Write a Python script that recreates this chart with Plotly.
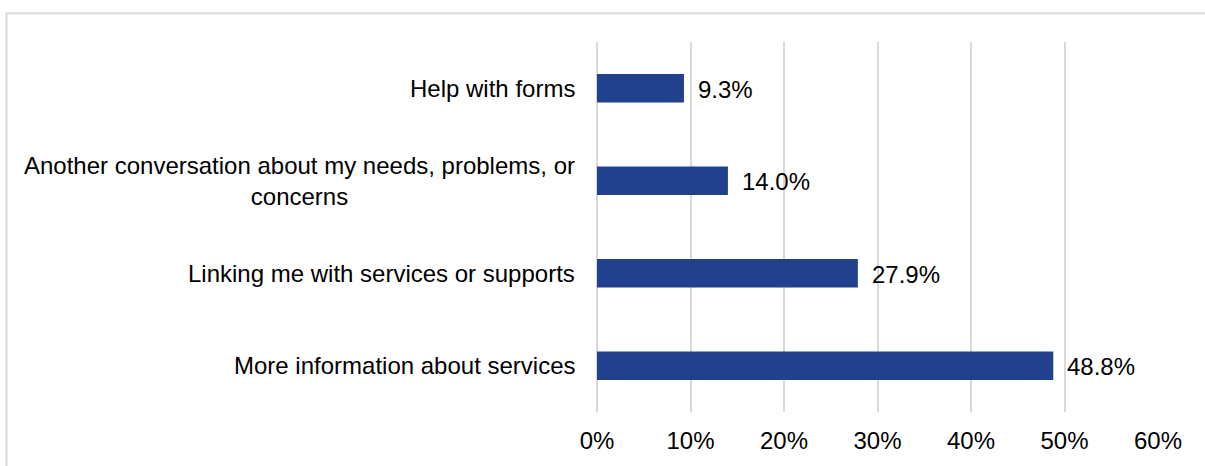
import plotly.graph_objects as go

categories = [
    "Help with forms",
    "Another conversation about my needs, problems, or<br>concerns",
    "Linking me with services or supports",
    "More information about services",
]
values = [9.3, 14.0, 27.9, 48.8]
tick_vals = [0, 10, 20, 30, 40, 50, 60]
tick_text = ["0%", "10%", "20%", "30%", "40%", "50%", "60%"]

BAR = "#22418D"
GRID = "#D9D9D9"
FONT = "Liberation Sans, Arial, sans-serif"

fig = go.Figure()
fig.add_trace(go.Bar(
    x=values, y=categories, orientation="h",
    marker=dict(color=BAR, line=dict(width=0)),
    width=0.31, hoverinfo="skip",
))

annotations = []
for c, v in zip(categories, values):
    annotations.append(dict(
        x=v, y=c, xref="x", yref="y", text=f"{v:.1f}%",
        showarrow=False, xanchor="left", yanchor="middle", xshift=12, yshift=-1,
        font=dict(family=FONT, size=24, color="#000000"),
    ))
    annotations.append(dict(
        x=0, y=c, xref="paper", yref="y", text=c,
        showarrow=False, xanchor="right", yanchor="middle", xshift=-20,
        align="center",
        font=dict(family=FONT, size=24, color="#000000"),
    ))

fig.update_layout(
    width=1205, height=466,
    margin=dict(l=597, r=47, t=42, b=50),
    paper_bgcolor="white", plot_bgcolor="white",
    showlegend=False,
    font=dict(family=FONT, size=24, color="#000000"),
    annotations=annotations,
    xaxis=dict(
        range=[0, 60], tickvals=tick_vals, ticktext=tick_text,
        showgrid=True, gridcolor=GRID, gridwidth=1.5,
        zeroline=True, zerolinecolor=GRID, zerolinewidth=1.5,
        showline=False, ticks="", ticklabelstandoff=12,
        tickfont=dict(family=FONT, size=24, color="#000000"),
        fixedrange=True,
    ),
    yaxis=dict(
        categoryorder="array", categoryarray=categories,
        autorange="reversed", showticklabels=False,
        showgrid=False, zeroline=False, showline=False, ticks="",
        fixedrange=True,
    ),
    shapes=[dict(
        type="rect", xref="paper", yref="paper",
        x0=(6.5 - 597) / 561, x1=(1215 - 597) / 561,
        y0=(416 - 480) / 374, y1=(416 - 13) / 374,
        line=dict(color=GRID, width=2), fillcolor="rgba(0,0,0,0)",
        layer="below",
    )],
)

fig.write_html("out.html")
